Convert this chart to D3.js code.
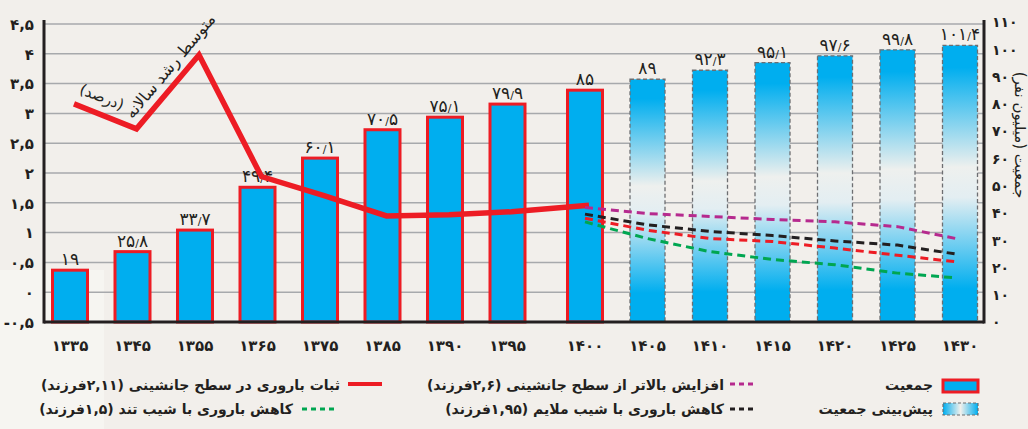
<!DOCTYPE html>
<html>
<head>
<meta charset="utf-8">
<script src="https://cdn.jsdelivr.net/npm/d3@7"></script>
<style>
  html, body { margin: 0; padding: 0; background: #F2EFEB; }
  svg { display: block; }
  text { font-family: "DejaVu Sans", sans-serif; fill: #231F20; }
</style>
</head>
<body>
<svg id="chart" width="1028" height="429"></svg>
<script>
// ---------- data ----------
const years = [1335, 1345, 1355, 1365, 1375, 1385, 1390, 1395, 1400, 1405, 1410, 1415, 1420, 1425, 1430];
const population = [19, 25.8, 33.7, 49.4, 60.1, 70.5, 75.1, 79.9, 85, 89, 92.3, 95.1, 97.6, 99.8, 101.4];
const projectionStart = 1405;

const growthYears = [1335, 1345, 1355, 1365, 1375, 1385, 1390, 1395, 1400];
const growthRate = [3.16, 2.74, 3.98, 1.94, 1.62, 1.28, 1.30, 1.35, 1.46];

const scenarioYears = [1400, 1405, 1410, 1415, 1420, 1425, 1430];
const scenarioHigh = [1.42, 1.32, 1.27, 1.22, 1.18, 1.10, 0.90];
const scenarioMild = [1.31, 1.13, 1.02, 0.95, 0.86, 0.79, 0.64];
const scenarioReplacement = [1.24, 1.04, 0.90, 0.85, 0.74, 0.62, 0.51];
const scenarioSteep = [1.18, 0.90, 0.68, 0.55, 0.46, 0.32, 0.24];

const leftTicks = [-0.5, 0, 0.5, 1, 1.5, 2, 2.5, 3, 3.5, 4, 4.5];
const rightTicks = [0, 10, 20, 30, 40, 50, 60, 70, 80, 90, 100, 110];

const growthTitle = "متوسط رشد سالانه";
const growthUnit = "(درصد)";
const rightTitle = "جمعیت (میلیون نفر)";
const legendPop = "جمعیت";
const legendProj = "پیش‌بینی جمعیت";
const legendHigh = "افزایش بالاتر از سطح جانشینی (۲,۶فرزند)";
const legendMild = "کاهش باروری با شیب ملایم (۱,۹۵فرزند)";
const legendRepl = "ثبات باروری در سطح جانشینی (۲,۱۱فرزند)";
const legendSteep = "کاهش باروری با شیب تند (۱,۵فرزند)";

// ---------- helpers ----------
const faDigits = "۰۱۲۳۴۵۶۷۸۹";
function faInt(v) {
  return String(v).replace(/[0-9]/g, d => faDigits[+d]);
}
function fa(v) {
  return faInt(v).replace(".", ",");
}

// ---------- layout ----------
const C = {
  blue: "#00AEEF", red: "#ED1C24", magenta: "#B62A8E", black: "#231F20",
  green: "#00A651", grid: "#A7A9AC", bg: "#F2EFEB"
};
const plotL = 44, plotR = 984, plotT = 20, plotB = 322;
const gap = 15, barW = 35;

const svg = d3.select("#chart");

const x = d3.scalePoint().domain(years).range([70, 945]);
const xc = yr => x(yr) + (yr >= 1400 ? gap : 0);
const yL = d3.scaleLinear().domain([-0.5, 4.5]).range([plotB, 24]);
const yR = d3.scaleLinear().domain([0, 110]).range([plotB, 22]);

// background
svg.append("rect").attr("width", 1028).attr("height", 429).attr("fill", C.bg);
svg.append("rect").attr("x", 0).attr("y", 270).attr("width", 104).attr("height", 159).attr("fill", "#F6F5F1");

// gradients
const defs = svg.append("defs");
const gV = defs.append("linearGradient").attr("id", "projV")
  .attr("x1", 0).attr("y1", 0).attr("x2", 0).attr("y2", 1);
[[0, C.blue], [0.08, C.blue], [0.44, "#EEF0EE"], [0.55, "#E3EEF2"], [0.88, C.blue], [1, C.blue]]
  .forEach(([o, c]) => gV.append("stop").attr("offset", o).attr("stop-color", c));
const gH = defs.append("linearGradient").attr("id", "projH")
  .attr("x1", 0).attr("y1", 0).attr("x2", 1).attr("y2", 0);
[[0, C.blue], [0.5, "#F1F0EC"], [1, C.blue]]
  .forEach(([o, c]) => gH.append("stop").attr("offset", o).attr("stop-color", c));

// gridlines
svg.append("g").selectAll("line")
  .data(leftTicks.filter(t => t >= 0))
  .join("line")
  .attr("x1", plotL).attr("x2", plotR)
  .attr("y1", d => yL(d)).attr("y2", d => yL(d))
  .attr("stroke", C.grid).attr("stroke-width", 1.5);

// bars
const barData = years.map((yr, i) => ({ yr, v: population[i], proj: yr >= projectionStart }));
svg.append("g").selectAll("rect")
  .data(barData)
  .join("rect")
  .attr("x", d => xc(d.yr) - barW / 2)
  .attr("width", barW)
  .attr("y", d => yR(d.v))
  .attr("height", d => yR(0) - yR(d.v))
  .attr("fill", d => d.proj ? "url(#projV)" : C.blue)
  .attr("stroke", d => d.proj ? "#6D6E71" : C.red)
  .attr("stroke-width", d => d.proj ? 1.3 : 3)
  .attr("stroke-dasharray", d => d.proj ? "4,2.5" : null);

// bar value labels (integer part, small slash separator, fraction)
svg.append("g").selectAll("text")
  .data(barData)
  .join("text")
  .attr("x", d => xc(d.yr))
  .attr("y", d => yR(d.v) - 5)
  .attr("text-anchor", "middle")
  .attr("font-size", 17)
  .each(function (d) {
    const parts = String(d.v).split(".");
    const t = d3.select(this);
    t.append("tspan").text(faInt(parts[0]));
    if (parts[1]) {
      t.append("tspan").attr("font-size", 11).text("/");
      t.append("tspan").text(faInt(parts[1]));
    }
  });

// axes lines
const axisG = svg.append("g");
axisG.append("line").attr("x1", plotL).attr("x2", plotL).attr("y1", plotT).attr("y2", plotB + 1.5)
  .attr("stroke", C.black).attr("stroke-width", 3);
axisG.append("line").attr("x1", plotR).attr("x2", plotR).attr("y1", plotT).attr("y2", plotB + 1.5)
  .attr("stroke", C.black).attr("stroke-width", 3);
axisG.append("line").attr("x1", plotL).attr("x2", plotR).attr("y1", plotB).attr("y2", plotB)
  .attr("stroke", C.black).attr("stroke-width", 3);

// left axis
const leftAxis = d3.axisLeft(yL).tickValues(leftTicks).tickSize(0).tickPadding(0)
  .tickFormat(d => d < 0 ? "-" + fa(Math.abs(d)) : fa(d));
const la = svg.append("g").attr("transform", `translate(${plotL - 10},0)`).call(leftAxis);
la.select(".domain").remove();
la.selectAll("text").attr("font-size", 15).attr("font-weight", "bold")
  .attr("font-family", "DejaVu Sans").attr("fill", C.black).attr("dy", "0.35em");

// right axis
const rightAxis = d3.axisRight(yR).tickValues(rightTicks).tickSize(0).tickPadding(0)
  .tickFormat(d => fa(d));
const ra = svg.append("g").attr("transform", `translate(${plotR + 8},0)`).call(rightAxis);
ra.select(".domain").remove();
ra.selectAll("text").attr("font-size", 14).attr("font-weight", "bold")
  .attr("font-family", "DejaVu Sans").attr("fill", C.black).attr("dy", "0.35em");

// bottom axis labels
svg.append("g").selectAll("text")
  .data(years)
  .join("text")
  .attr("x", d => xc(d))
  .attr("y", 351)
  .attr("text-anchor", "middle")
  .attr("font-size", 15).attr("font-weight", "bold")
  .text(d => faInt(d));

// right title
svg.append("text")
  .attr("transform", "translate(1015,135) rotate(90)")
  .attr("text-anchor", "middle")
  .attr("direction", "rtl")
  .attr("font-size", 15)
  .text(rightTitle);

// growth line
const line = d3.line().x(d => d[0]).y(d => d[1]);
svg.append("path")
  .attr("d", line(growthYears.map((yr, i) => [xc(yr) + 4, yL(growthRate[i])])))
  .attr("fill", "none").attr("stroke", C.red).attr("stroke-width", 5.5)
  .attr("stroke-linejoin", "miter");

// scenario lines
const scen = [
  [scenarioHigh, C.magenta],
  [scenarioMild, C.black],
  [scenarioReplacement, C.red],
  [scenarioSteep, C.green]
];
scen.forEach(([vals, col]) => {
  svg.append("path")
    .attr("d", line(scenarioYears.map((yr, i) => [xc(yr) - (i === vals.length - 1 ? 4 : 0), yL(vals[i])])))
    .attr("fill", "none").attr("stroke", col).attr("stroke-width", 3)
    .attr("stroke-dasharray", "8,5");
});

// rotated line labels
svg.append("text")
  .attr("transform", "translate(170,66) rotate(-50)")
  .attr("text-anchor", "middle").attr("direction", "rtl")
  .attr("dy", "0.35em")
  .attr("font-size", 16)
  .text(growthTitle);
svg.append("text")
  .attr("transform", "translate(102,97) rotate(22)")
  .attr("text-anchor", "middle").attr("direction", "rtl")
  .attr("dy", "0.35em")
  .attr("font-size", 15)
  .text(growthUnit);

// legend
const lg = svg.append("g");
function legText(xr, y, t) {
  lg.append("text").attr("x", xr).attr("y", y).attr("direction", "rtl")
    .attr("text-anchor", "start").attr("font-size", 14).attr("font-weight", "bold")
    .attr("dy", "0.35em").text(t);
}
// population boxes
lg.append("rect").attr("x", 943).attr("y", 380).attr("width", 35).attr("height", 12)
  .attr("fill", C.blue).attr("stroke", C.red).attr("stroke-width", 3);
legText(933, 385, legendPop);
lg.append("rect").attr("x", 943).attr("y", 403).attr("width", 35).attr("height", 12)
  .attr("fill", "url(#projH)").attr("stroke", "#6D6E71").attr("stroke-width", 1.2)
  .attr("stroke-dasharray", "3,2");
legText(933, 409, legendProj);
// scenario legends
lg.append("line").attr("x1", 730).attr("x2", 753).attr("y1", 384).attr("y2", 384)
  .attr("stroke", C.magenta).attr("stroke-width", 3).attr("stroke-dasharray", "5,4");
legText(724, 385, legendHigh);
lg.append("line").attr("x1", 730).attr("x2", 753).attr("y1", 409).attr("y2", 409)
  .attr("stroke", C.black).attr("stroke-width", 3).attr("stroke-dasharray", "5,4");
legText(724, 409, legendMild);
lg.append("line").attr("x1", 348).attr("x2", 382).attr("y1", 384).attr("y2", 384)
  .attr("stroke", C.red).attr("stroke-width", 4);
legText(340, 385, legendRepl);
lg.append("line").attr("x1", 302).attr("x2", 337).attr("y1", 409).attr("y2", 409)
  .attr("stroke", C.green).attr("stroke-width", 3).attr("stroke-dasharray", "5,4");
legText(293, 409, legendSteep);
</script>
</body>
</html>
